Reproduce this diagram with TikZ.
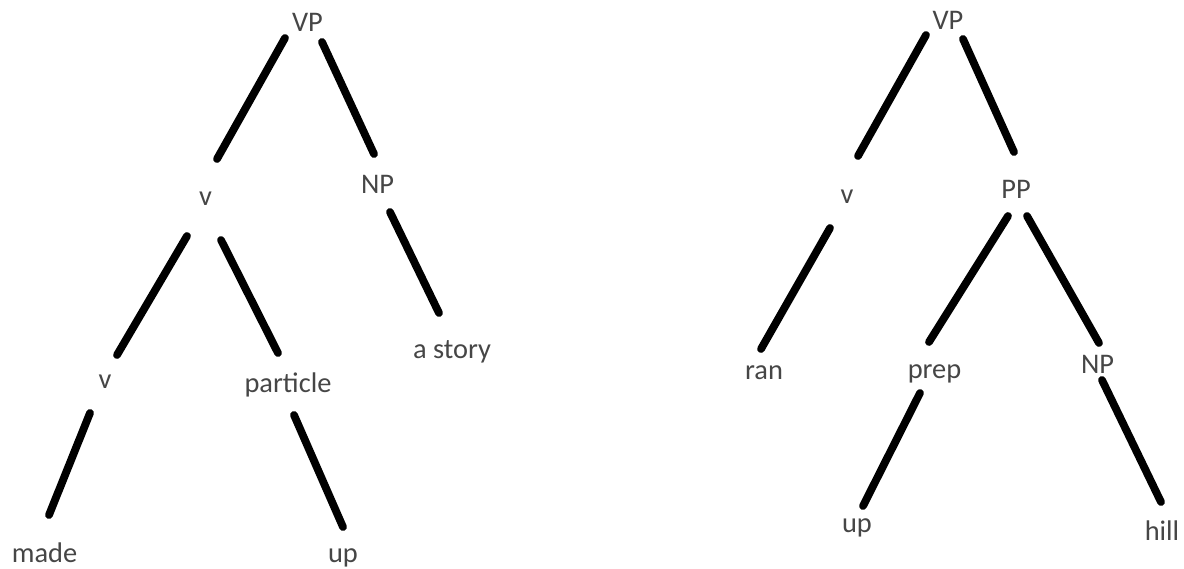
\documentclass[tikz,border=0pt]{standalone}
\usepackage{fontspec}
\setmainfont{Carlito}
\definecolor{txtgray}{RGB}{70,70,70}
\begin{document}
\begin{tikzpicture}[x=0.5pt,y=-0.5pt,
  lbl/.style={anchor=base,inner sep=0pt,outer sep=0pt,text=txtgray,font=\fontsize{14.2}{17}\selectfont},
  branch/.style={line width=3.9pt,line cap=round,black}]
\useasboundingbox[fill=white] (0,0) rectangle (1184,568);
% left tree
\node[lbl] (VPa) at (307.5,31) {VP};
\node[lbl] (va) at (205.5,205) {v};
\node[lbl] (NPa) at (377.5,193) {NP};
\node[lbl] (vb) at (105,388) {v};
\node[lbl] (part) at (288,392) {particle};
\node[lbl] (story) at (452,358) {a story};
\node[lbl] (made) at (44.5,562) {made};
\node[lbl] (upa) at (343,562) {up};
% right tree
\node[lbl] (VPb) at (948,29) {VP};
\node[lbl] (vc) at (847,203) {v};
\node[lbl] (PP) at (1016,198) {PP};
\node[lbl] (ran) at (764,379) {ran};
\node[lbl] (prep) at (934.5,378) {prep};
\node[lbl] (NPb) at (1097.5,373) {NP};
\node[lbl] (upb) at (857,532) {up};
\node[lbl] (hill) at (1162,540) {hill};
% left connectors
\draw[branch] ([shift={(-22.5,7)}]VPa.base) -- ([shift={(11.5,-46)}]va.base);
\draw[branch] ([shift={(14.5,11)}]VPa.base) -- ([shift={(-3.5,-39)}]NPa.base);
\draw[branch] ([shift={(-18.5,31)}]va.base) -- ([shift={(12,-33)}]vb.base);
\draw[branch] ([shift={(15.5,35)}]va.base) -- ([shift={(-10,-39)}]part.base);
\draw[branch] ([shift={(12.5,19)}]NPa.base) -- ([shift={(-13,-45)}]story.base);
\draw[branch] ([shift={(-15,25)}]vb.base) -- ([shift={(4.5,-47)}]made.base);
\draw[branch] ([shift={(6,23)}]part.base) -- ([shift={(0,-35)}]upa.base);
% right connectors
\draw[branch] ([shift={(-22,6)}]VPb.base) -- ([shift={(11,-47)}]vc.base);
\draw[branch] ([shift={(15,10)}]VPb.base) -- ([shift={(-2,-46)}]PP.base);
\draw[branch] ([shift={(-17,25)}]vc.base) -- ([shift={(-3,-30)}]ran.base);
\draw[branch] ([shift={(-8,18)}]PP.base) -- ([shift={(-5.5,-36)}]prep.base);
\draw[branch] ([shift={(11,18)}]PP.base) -- ([shift={(1.5,-30)}]NPb.base);
\draw[branch] ([shift={(-14.5,15)}]prep.base) -- ([shift={(6,-26)}]upb.base);
\draw[branch] ([shift={(4.5,7)}]NPb.base) -- ([shift={(-1,-38)}]hill.base);
\end{tikzpicture}
\end{document}
